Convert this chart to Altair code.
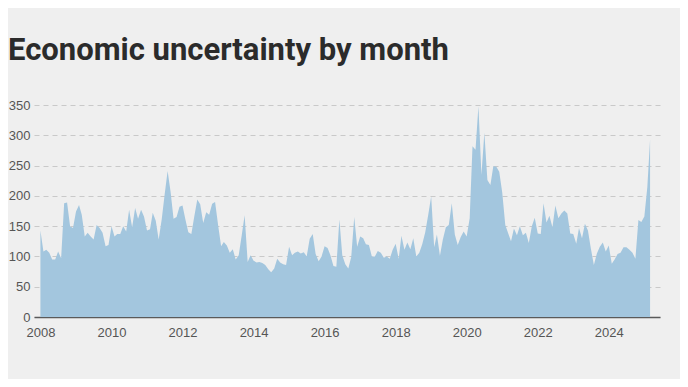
import altair as alt
import pandas as pd

# Monthly index values (Jan 2008 .. Mar 2025)
v2008 = [143, 108, 111, 106, 95, 95, 108, 97, 188, 189, 150, 147]
v2009 = [174, 185, 169, 133, 139, 133, 128, 152, 147, 139, 117, 119]
v2010 = [150, 133, 137, 137, 150, 141, 177, 148, 180, 162, 177, 166]
v2011 = [143, 145, 172, 159, 128, 161, 202, 241, 206, 162, 165, 182]
v2012 = [184, 160, 140, 137, 166, 194, 186, 155, 173, 169, 187, 190]
v2013 = [152, 117, 124, 118, 106, 112, 95, 102, 135, 168, 91, 102]
v2014 = [93, 90, 91, 89, 86, 79, 74, 80, 96, 90, 87, 86]
v2015 = [116, 102, 106, 108, 105, 107, 100, 129, 137, 104, 92, 100]
v2016 = [117, 114, 102, 84, 83, 161, 102, 87, 80, 99, 165, 116]
v2017 = [133, 130, 120, 119, 100, 100, 109, 106, 98, 100, 96, 111]
v2018 = [121, 96, 134, 111, 123, 112, 130, 100, 106, 120, 140, 168]
v2019 = [199, 115, 136, 101, 128, 148, 152, 188, 136, 119, 132, 141]
v2020 = [133, 163, 282, 276, 348, 235, 304, 226, 218, 249, 248, 240]
v2021 = [205, 152, 139, 125, 146, 135, 150, 135, 139, 122, 150, 164]
v2022 = [138, 137, 188, 156, 167, 148, 184, 163, 171, 176, 171, 138]
v2023 = [137, 121, 147, 130, 154, 143, 113, 86, 105, 116, 123, 108]
v2024 = [118, 88, 95, 104, 106, 115, 115, 111, 106, 96, 160, 157]
v2025 = [166, 215, 293]

values = (v2008 + v2009 + v2010 + v2011 + v2012 + v2013 + v2014 + v2015 +
          v2016 + v2017 + v2018 + v2019 + v2020 + v2021 + v2022 + v2023 +
          v2024 + v2025)
months = pd.date_range("2008-01-01", periods=len(values), freq="MS")
df = pd.DataFrame({"month": months, "value": values})

year_ticks = [f"{y}-01-01" for y in range(2008, 2025, 2)]
y_ticks = [0, 50, 100, 150, 200, 250, 300, 350]

font = "Liberation Sans"

chart = (
    alt.Chart(df)
    .mark_area(color="#a3c6de", opacity=1, interpolate="linear")
    .encode(
        x=alt.X(
            "month:T",
            title=None,
            scale=alt.Scale(domain=["2007-10-27", "2025-06-11"], nice=False),
            axis=alt.Axis(
                values=year_ticks,
                format="%Y",
                grid=False,
                ticks=False,
                tickSize=0,
                labelPadding=9,
                labelFontSize=13,
                labelFont=font,
                labelColor="#555555",
                domainColor="#5a5a5a",
                domainWidth=1.5,
                labelFlush=False,
                labelOverlap=False,
            ),
        ),
        y=alt.Y(
            "value:Q",
            title=None,
            scale=alt.Scale(domain=[0, 350], nice=False),
            axis=alt.Axis(
                values=y_ticks,
                grid=True,
                gridDash=[5, 4],
                gridColor="#c9c9c9",
                gridWidth=1,
                domain=False,
                ticks=False,
                labelPadding=4,
                labelFontSize=13,
                labelFont=font,
                labelColor="#555555",
            ),
        ),
    )
    .properties(
        width=626,
        height=212,
        autosize=alt.AutoSizeParams(type="none"),
        padding={"left": 26, "top": 97, "right": 20, "bottom": 62},
        title=alt.TitleParams(
            text="Economic uncertainty by month",
            anchor="start",
            frame="group",
            dx=-26,
            font="Roboto",
            fontSize=31,
            fontWeight="bold",
            color="#2b2b2b",
            baseline="alphabetic",
            offset=8,
        ),
    )
    .configure(background="#efefef")
    .configure_view(stroke=None)
)

chart.save("out.html", embed_options={"renderer": "svg", "actions": False})
